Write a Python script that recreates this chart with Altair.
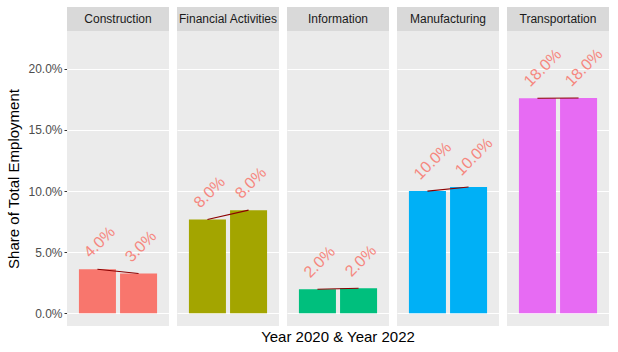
import altair as alt
import pandas as pd

industries = ["Construction", "Financial Activities", "Information", "Manufacturing", "Transportation"]
years = ["2020", "2022"]
share_2020 = [3.6, 7.68, 1.97, 10.0, 17.6]
share_2022 = [3.25, 8.44, 2.05, 10.33, 17.62]
bar_colors = ["#F8766D", "#A3A500", "#00BF7D", "#00B0F6", "#E76BF3"]

rows = []
for i, ind in enumerate(industries):
    rows.append({"industry": ind, "year": years[0], "share": share_2020[i]})
    rows.append({"industry": ind, "year": years[1], "share": share_2022[i]})
df = pd.DataFrame(rows)

FONT = "Liberation Sans"
PW, PH = 102, 295

yscale = alt.Scale(domain=[-1.04, 23.1], nice=False, zero=False)
xenc = alt.X("year:N", axis=None, scale=alt.Scale(paddingInner=0.1, paddingOuter=0.29))

yaxis = alt.Axis(
    values=[0, 2.5, 5, 7.5, 10, 12.5, 15, 17.5, 20, 22.5],
    labelExpr="datum.value % 5 === 0 ? format(datum.value / 100, '.1%') : ''",
    grid=True,
    gridColor="white",
    gridWidth={"condition": {"test": "datum.value % 5 === 0", "value": 1.1}, "value": 0.55},
    tickColor="#333333",
    tickSize=3,
    tickOpacity={"condition": {"test": "datum.value % 5 === 0", "value": 1}, "value": 0},
    labelColor="#4D4D4D",
    labelFontSize=12,
    labelFont=FONT,
    labelPadding=2,
    domain=False,
    title="Share of Total Employment",
    titleFont=FONT,
    titleFontSize=15,
    titleFontWeight="normal",
    titleColor="black",
    titlePadding=6,
)

bars = alt.Chart().mark_bar().encode(
    x=xenc,
    y=alt.Y("share:Q", scale=yscale, axis=yaxis, stack=None),
    color=alt.Color("industry:N", scale=alt.Scale(domain=industries, range=bar_colors), legend=None),
)

line = alt.Chart().mark_line(color="#8B0000", strokeWidth=1.1).encode(
    x=xenc,
    y=alt.Y("share:Q", scale=yscale),
)

labels = alt.Chart().transform_calculate(
    label="format(round(datum.share), '.1f') + '%'"
).mark_text(
    angle=315, align="left", baseline="middle", font=FONT, fontSize=16,
    color="#F8766D", opacity=0.85, dx=2.5, dy=-17.6,
).encode(
    x=xenc,
    y=alt.Y("share:Q", scale=yscale),
    text="label:N",
)

strip = alt.Chart().transform_filter("datum.year == '2020'").mark_rect(color="#D9D9D9").encode(
    x=alt.value(0), x2=alt.value(PW), y=alt.value(-24), y2=alt.value(0)
)
strip_text = alt.Chart().transform_filter("datum.year == '2020'").mark_text(
    font=FONT, fontSize=12, color="#1A1A1A", baseline="middle", align="center"
).encode(x=alt.value(PW / 2), y=alt.value(-12), text="industry:N")

layered = alt.layer(bars, line, labels, strip, strip_text).properties(width=PW, height=PH)

chart = layered.facet(
    column=alt.Column(
        "industry:N",
        sort=industries,
        header=alt.Header(
            labels=False,
            title="Year 2020 & Year 2022",
            titleOrient="bottom",
            titleFont=FONT,
            titleFontSize=15,
            titleFontWeight="normal",
            titleColor="black",
            titlePadding=-6,
        ),
    ),
    data=df,
    spacing=8,
).properties(
    padding={"left": 6, "top": 7, "right": 8, "bottom": 4},
).configure_view(fill="#EBEBEB", strokeWidth=0)

chart.save("out.html", embed_options={"renderer": "svg", "actions": False})
